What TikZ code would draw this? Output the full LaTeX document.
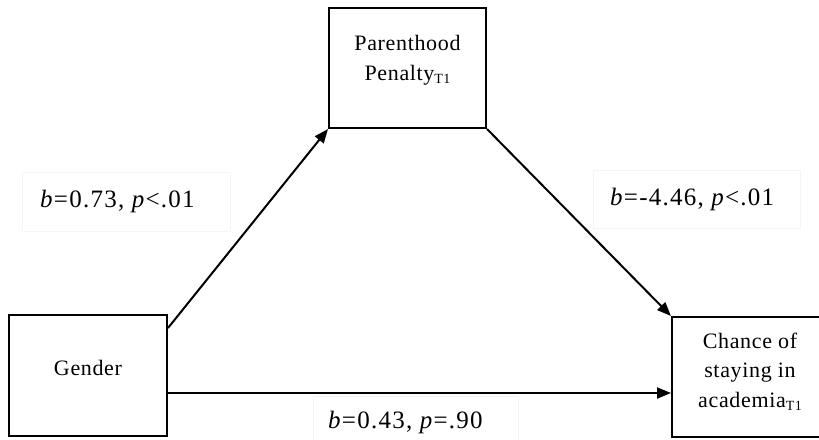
\documentclass[tikz,border=0pt]{standalone}
\usepackage{fontspec}
\setmainfont{Liberation Serif}
\newfontfamily\labfont[LetterSpace=5]{Liberation Serif}
\newfontfamily\boxfont[LetterSpace=3]{Liberation Serif}
\usetikzlibrary{arrows.meta}
\newcommand{\subTone}{\raisebox{-3pt}{\fontsize{14}{14}\selectfont T1}}
\begin{document}
\begin{tikzpicture}[x=1pt,y=-1pt,
  boxnode/.style={draw=black,line width=2pt,rectangle,inner sep=0pt},
  txt/.style={anchor=base,inner sep=0pt,font=\boxfont\fontsize{22}{30}\selectfont},
  lab/.style={anchor=base west,inner sep=0pt,font=\labfont\fontsize{25}{28}\selectfont},
  labframe/.style={draw=black!4,line width=0.8pt,rectangle,inner sep=0pt},
  arr/.style={line width=2pt,-{Triangle[length=14pt,width=11pt]}}]
\useasboundingbox (0,0) rectangle (819,439);
\begin{scope}
\clip (0,0) rectangle (819,439);
% faint label frames
\node[labframe,minimum width=208pt,minimum height=59pt] (f1) at (126,201.5) {};
\node[labframe,minimum width=207pt,minimum height=58pt] (f2) at (696.5,199) {};
\node[labframe,minimum width=205pt,minimum height=50pt] (f3) at (415.5,421) {};
% boxes
\node[boxnode,minimum width=157pt,minimum height=120pt] (pp) at (407.5,68) {};
\node[boxnode,minimum width=158pt,minimum height=121pt] (gender) at (88,375.5) {};
\node[boxnode,minimum width=148pt,minimum height=120pt] (cs) at (746,377) {};
\end{scope}
% box texts
\node[txt] (pp1) at (407.5,50) {Parenthood};
\node[txt] (pp2) at (407.5,80) {Penalty\subTone};
\node[txt] (g1) at (88,375) {Gender};
\node[txt] (cs1) at (750,348) {Chance of};
\node[txt] (cs2) at (750,377) {staying in};
\node[txt] (cs3) at (750,407) {academia\subTone};
% labels
\node[lab] (l1) at (40,207) {\textit{b}=0.73, \textit{p}<.01};
\node[lab] (l2) at (610,205) {\textit{b}=-4.46, \textit{p}<.01};
\node[lab] (l3) at (328,428) {\textit{b}=0.43, \textit{p}=.90};
% arrows
\draw[arr] ([yshift=-14pt]gender.north east) -- (pp.south west);
\draw[arr] (pp.south east) -- (cs.north west);
\draw[arr] ([yshift=-17.5pt]gender.east) -- ([yshift=-17.5pt]gender.east -| cs.west);
\end{tikzpicture}
\end{document}
